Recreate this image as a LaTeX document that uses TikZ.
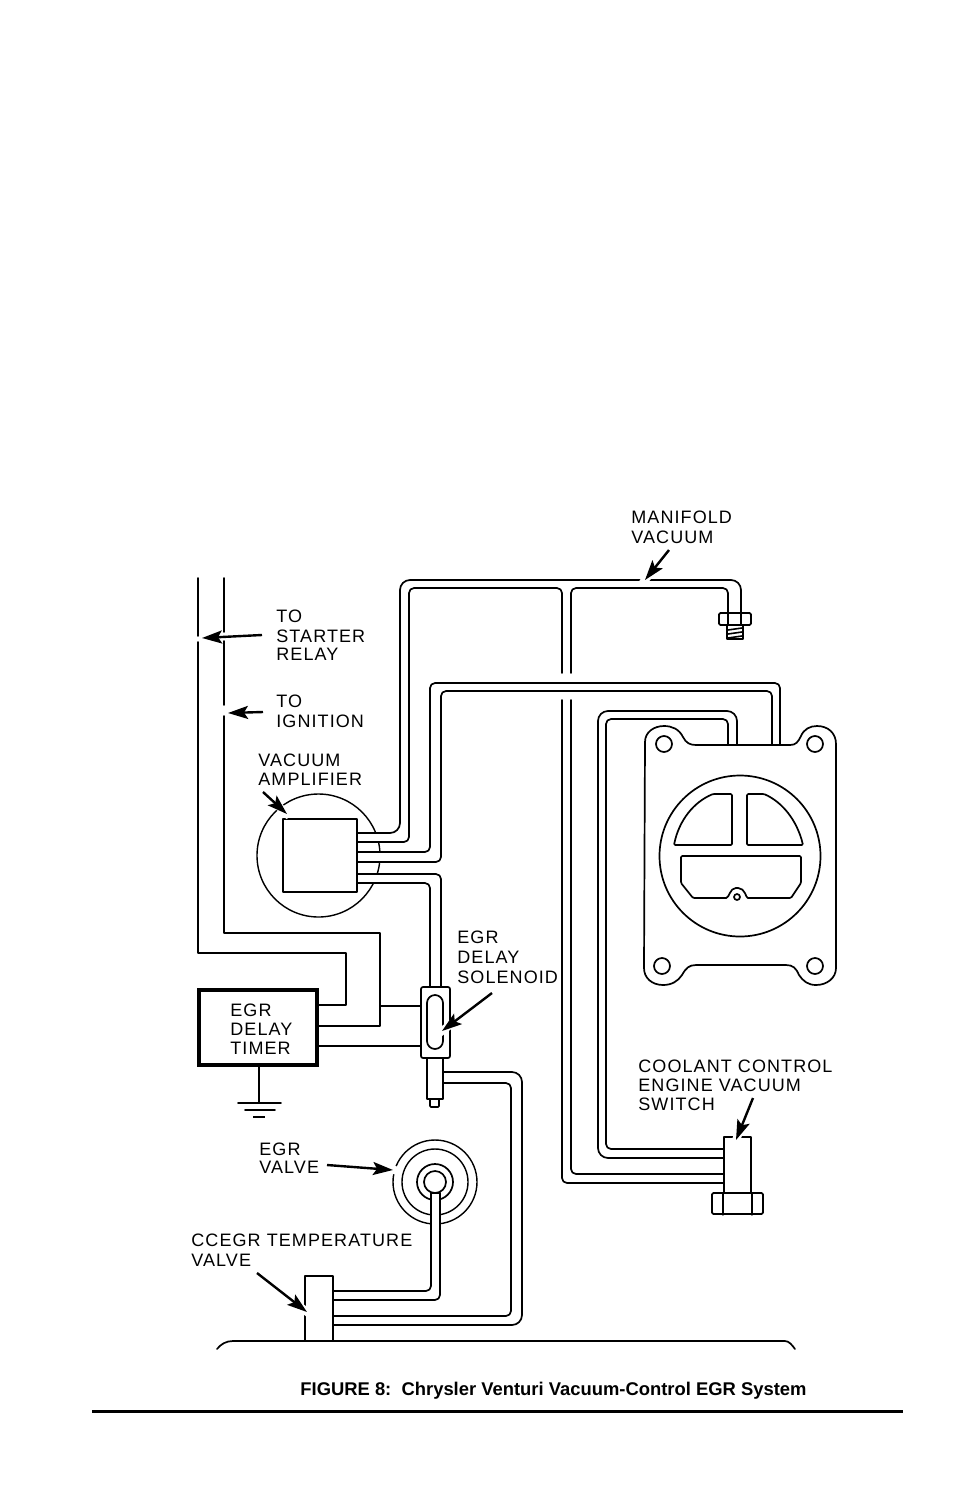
\documentclass[tikz,border=0pt]{standalone}
\usepackage{fontspec}
\setmainfont{Liberation Sans}
\newfontfamily\lblfont[LetterSpace=6]{Liberation Sans}
\usetikzlibrary{arrows.meta,calc}
\tikzset{
  wire/.style={line width=0.85pt,line cap=round,line join=round},
  thin wire/.style={line width=0.7pt,line cap=round,line join=round},
  tubeout/.style={wire,rounded corners=5pt},
  tubein/.style={wire,rounded corners=2.5pt},
  callout/.style={line width=1.2pt,-{Stealth[length=10pt,width=6.5pt,inset=2pt]}},
  lbl/.style={anchor=base west,inner sep=0pt,font=\lblfont\fontsize{9}{9}\selectfont}
}
\begin{document}
\begin{tikzpicture}[x=0.5pt,y=-0.5pt]
\useasboundingbox[fill=white] (0,0) rectangle (954,1500);

% ----- vacuum amplifier
\draw[thin wire] (318.5,855.5) circle (61.5);
\fill[white] (368,834) rectangle (390,841) (368,853) rectangle (390,861) (368,875) rectangle (390,882);
\node[draw,wire,inner sep=0pt,minimum width=37pt,minimum height=36.5pt] (amp) at (320,855.5) {};

% ----- timer, solenoid, small parts
\node[draw,line width=2pt,inner sep=0pt,minimum width=59pt,minimum height=37.5pt] (timer) at (257.5,1027.5) {};
\node[draw,wire,rounded corners=1pt,inner sep=0pt,minimum width=14.5pt,minimum height=35.5pt] (sol) at (435.5,1022.5) {};
\node[draw,wire,rounded corners=4pt,inner sep=0pt,minimum width=8pt,minimum height=27pt] (slot) at (435,1022) {};
\node[draw,wire,inner sep=0pt,minimum width=8pt,minimum height=20.5pt] (solstem) at (435,1078.5) {};
\node[draw,wire,rounded corners=0.5pt,inner sep=0pt,minimum width=4.5pt,minimum height=4pt] (soltip) at (434.5,1103) {};
\node[draw,wire,inner sep=0pt,minimum width=14pt,minimum height=32.5pt] (cct) at (319,1308.5) {};
\node[draw,wire,inner sep=0pt,minimum width=13.5pt,minimum height=28pt] (sw) at (737.5,1165) {};
\node[draw,wire,rounded corners=0.7pt,inner sep=0pt,minimum width=25.5pt,minimum height=10.5pt] (swnut) at (737.5,1203.5) {};
\draw[wire] (sw.south west) -- (sw.south west |- swnut.south);
\draw[wire] (sw.south east) -- (sw.south east |- swnut.south);

% ----- wires
\draw[wire] (198,578) -- (198,636);
\draw[wire] (198,642) -- (198,953) -- (346,953) -- (346,1005) -- (timer.east |- 0,1005);
\draw[wire] (224,578) -- (224,632);
\draw[wire] (224,641) -- (224,705);
\draw[wire] (224,716) -- (224,933) -- (380,933) -- (380,1026) -- (timer.east |- 0,1026);
\coordinate (wj) at (380,1006);
\draw[wire] (wj) -- (sol.west |- wj);
\draw[wire] (timer.east |- 0,1046) -- (sol.west |- 0,1046);

% ground
\coordinate (gnd) at (259,1103);
\draw[wire] (timer.south -| gnd) -- (gnd);
\draw[wire] (238,1103) -- (281,1103);
\draw[wire] (245,1110) -- (275,1110);
\draw[line width=1.1pt] (253,1117) -- (265,1117);

% ----- tubes
\coordinate (fitL) at (728,613);
\coordinate (fitR) at (741,613);
\draw[tubeout] (amp.east |- 0,833) -- (400,833) -- (400,580) -- (741,580) -- (fitR);
\draw[tubein] (amp.east |- 0,842) -- (409,842) -- (409,588) -- (562,588) -- (562,673);
\draw[tubein] (562,700) -- (562,1183) -- (724,1183);
\draw[tubein] (fitL) -- (728,588) -- (571,588) -- (571,673);
\draw[tubein] (571,700) -- (571,1174) -- (724,1174);
\draw[tubein] (amp.east |- 0,852) -- (430,852) -- (430,683) -- (780,683) -- (780,745);
\draw[tubein] (amp.east |- 0,862) -- (441,862) -- (441,691) -- (772,691) -- (772,745);
\draw[tubein] (amp.east |- 0,874) -- (441,874) -- (441,987);
\draw[tubein] (amp.east |- 0,883) -- (430,883) -- (430,987);
\draw[tubeout] (737,745) -- (737,711) -- (598,711) -- (598,1158) -- (724,1158);
\draw[tubein] (728,745) -- (728,719) -- (606,719) -- (606,1149) -- (724,1149);
\draw[tubeout] (solstem.east |- 0,1072) -- (522,1072) -- (522,1325) -- (cct.east |- 0,1325);
\draw[tubein] (solstem.east |- 0,1083) -- (511,1083) -- (511,1316) -- (cct.east |- 0,1316);

% ----- EGR valve
\draw[thin wire] (435,1182) circle (42);
\draw[thin wire] (435,1182) circle (33);
\draw[wire] (435,1182) circle (18);
\draw[wire] (435,1182) circle (11);
\fill[white] (431,1193) rectangle (440,1240);
\draw[tubein] (431,1193) -- (431,1291) -- (cct.east |- 0,1291);
\draw[tubein] (440,1193) -- (440,1300) -- (cct.east |- 0,1300);
\draw[wire] (431,1193) -- (440,1193);

% ----- engine base line
\draw[wire] (217,1349) .. controls (221,1344) and (226,1341) .. (233,1341) -- (785,1341) .. controls (789,1341) and (792,1345) .. (795,1349);

% ----- manifold fitting
\draw[wire,rounded corners=0.7pt] (719,613) rectangle (751,625);
\draw[wire] (728,613) -- (728,625) (741,613) -- (741,625);
\draw[wire] (727,625) -- (727,639) -- (743,639) -- (743,625);
\draw[line width=0.8pt] (728,630) -- (742,628) (728,634) -- (742,632) (728,638) -- (742,636);

% ----- carburetor flange
\draw[wire] (645,742) .. controls (645,732) and (654,726) .. (664,726)
  .. controls (672,726) and (679,729) .. (683,737)
  .. controls (686,743) and (690,745) .. (696,745) -- (790,745)
  .. controls (796,745) and (798,742) .. (801,736)
  .. controls (804,729) and (810,726) .. (817,726)
  .. controls (828,726) and (836,733) .. (836,744) -- (836,968)
  .. controls (836,978) and (827,985) .. (816,985)
  .. controls (808,985) and (803,981) .. (799,975)
  .. controls (796,968) and (793,965) .. (786,965) -- (696,965)
  .. controls (689,965) and (686,968) .. (682,975)
  .. controls (678,981) and (672,985) .. (663,985)
  .. controls (652,985) and (644,978) .. (644,968) -- cycle;
\draw[wire] (664,744) circle (8) (815,744) circle (8) (662,966) circle (8) (815,966) circle (8);
\draw[wire] (740,856) circle (80.5);
\draw[wire,rounded corners=0.6pt] (732,794) -- (732,845) -- (674,845) .. controls (679,820) and (694,802) .. (713,794) -- cycle;
\draw[wire,rounded corners=0.6pt] (747,794) -- (747,845) -- (803,845) .. controls (797,820) and (782,802) .. (764,794) -- cycle;
\draw[wire,rounded corners=0.6pt] (681,856) -- (801,856) -- (801,883) -- (791,898) -- (749,898)
  .. controls (746,898) and (745,888) .. (737,888) .. controls (730,888) and (729,898) .. (725,898)
  -- (693,898) -- (681,883) -- cycle;
\draw[wire] (737,897) circle (3);

% ----- callout arrows
\coordinate (a1s) at (669,550); \coordinate (a1e) at (645,580);
\coordinate (a2s) at (262,635); \coordinate (a2e) at (202,638);
\coordinate (a3s) at (263,712); \coordinate (a3e) at (228,713);
\coordinate (a4s) at (263,792); \coordinate (a4e) at (287,814);
\coordinate (a5s) at (492,993); \coordinate (a5e) at (442,1031);
\coordinate (a6s) at (327,1165); \coordinate (a6e) at (393,1170);
\coordinate (a7s) at (257,1273); \coordinate (a7e) at (307,1312);
\coordinate (a8s) at (753,1098); \coordinate (a8e) at (736,1140);
\foreach \s/\e in {a1s/a1e,a4s/a4e,a5s/a5e,a6s/a6e,a7s/a7e,a8s/a8e}
  \draw[white,line width=4pt] ($(\s)!0.6!(\e)$) -- ($(\s)!1.1!(\e)$);
\foreach \s/\e in {a1s/a1e,a2s/a2e,a3s/a3e,a4s/a4e,a5s/a5e,a6s/a6e,a7s/a7e,a8s/a8e}
  \draw[callout] (\s) -- (\e);

% ----- labels
\node[lbl] (t1) at (631,523) {MANIFOLD};
\node[lbl] (t2) at (631,543) {VACUUM};
\node[lbl] (t3) at (276,622) {TO};
\node[lbl] (t4) at (276,642) {STARTER};
\node[lbl] (t5) at (276,660) {RELAY};
\node[lbl] (t6) at (276,707) {TO};
\node[lbl] (t7) at (276,727) {IGNITION};
\node[lbl] (t8) at (258,766) {VACUUM};
\node[lbl] (t9) at (258,785) {AMPLIFIER};
\node[lbl] (t10) at (457,943) {EGR};
\node[lbl] (t11) at (457,963) {DELAY};
\node[lbl] (t12) at (457,983) {SOLENOID};
\node[lbl] (t13) at (230,1016) {EGR};
\node[lbl] (t14) at (230,1035) {DELAY};
\node[lbl] (t15) at (230,1054) {TIMER};
\node[lbl] (t16) at (259,1155) {EGR};
\node[lbl] (t17) at (259,1173) {VALVE};
\node[lbl] (t18) at (191,1246) {CCEGR TEMPERATURE};
\node[lbl] (t19) at (191,1266) {VALVE};
\node[lbl] (t20) at (638,1072) {COOLANT CONTROL};
\node[lbl] (t21) at (638,1091) {ENGINE VACUUM};
\node[lbl] (t22) at (638,1110) {SWITCH};
\node[anchor=base west,inner sep=0pt,font=\bfseries\fontsize{9.2}{10}\selectfont] (cap) at (300,1395) {FIGURE 8:\ \ Chrysler Venturi Vacuum-Control EGR System};
\coordinate (r1) at (92,1411); \coordinate (r2) at (903,1411);
\draw[line width=1.5pt] (r1) -- (r2);
\end{tikzpicture}
\end{document}
